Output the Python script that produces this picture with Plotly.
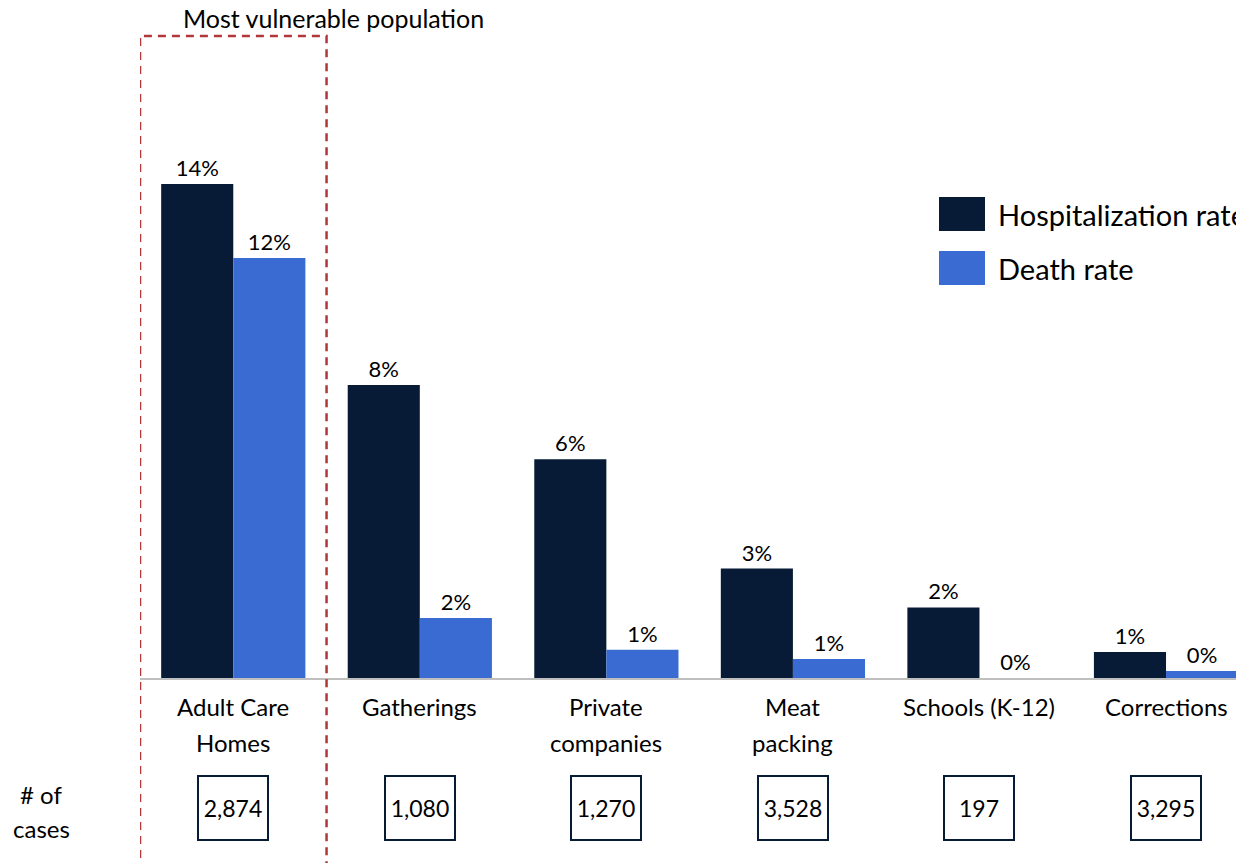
import plotly.graph_objects as go

categories = ["Adult Care<br>Homes", "Gatherings", "Private<br>companies", "Meat<br>packing", "Schools (K-12)", "Corrections"]
hospitalization_rate = [14.0, 8.3, 6.2, 3.1, 2.0, 0.74]
death_rate = [11.9, 1.7, 0.8, 0.54, 0.0, 0.2]
num_cases = ["2,874", "1,080", "1,270", "3,528", "197", "3,295"]
series_names = ["Hospitalization rate", "Death rate"]
series_colors = ["#081b36", "#3a6bd2"]

FONT = "Lato"
x = list(range(len(categories)))

# The page body has an 8px margin, so the figure is 8px smaller and margins shifted.
W, H = 1236, 855
ML, MT, MB = 132, 28, 185
PW = W - ML          # plot width 1104
PH = H - MT - MB     # plot height 642


def px_x(page_x):
    return (page_x - 8 - ML) / PW


def px_y(page_y):
    return (H - MB - (page_y - 8)) / PH


fig = go.Figure()
for name, vals, col in zip(series_names, [hospitalization_rate, death_rate], series_colors):
    fig.add_trace(go.Bar(
        x=x, y=vals, name=name, marker=dict(color=col, line=dict(width=0)),
        texttemplate="%{y:.0f}%", textposition="outside",
        textfont=dict(family=FONT, size=22, color="black"),
        cliponaxis=False, hoverinfo="skip",
    ))

annotations = []
# category labels, line by line
for i, cat in enumerate(categories):
    for j, line in enumerate(cat.split("<br>")):
        annotations.append(dict(x=i, xref="x", y=px_y(706), yref="paper", yshift=-36 * j,
                                text=line, showarrow=False, xanchor="center", yanchor="middle",
                                font=dict(family=FONT, size=24, color="black")))
# case count boxes
for i, n in enumerate(num_cases):
    annotations.append(dict(x=i, xref="x", y=px_y(808), yref="paper", text=n, showarrow=False,
                            width=66, height=60, bordercolor="#081b36", borderwidth=2,
                            bgcolor="white", xanchor="center", yanchor="middle",
                            font=dict(family=FONT, size=23, color="black")))
for j, line in enumerate(["# of", "cases"]):
    annotations.append(dict(x=px_x(41), xref="paper", y=px_y(794), yref="paper", yshift=-34 * j,
                            text=line, showarrow=False, xanchor="center", yanchor="middle",
                            font=dict(family=FONT, size=24, color="black")))
annotations.append(dict(x=px_x(333), xref="paper", y=px_y(18), yref="paper", text="Most vulnerable population",
                        showarrow=False, xanchor="center", yanchor="middle",
                        font=dict(family=FONT, size=25, color="black")))

# legend (manual, large swatches)
shapes = []
leg_y = [(197, 231), (251, 285)]
for (t, b), name, col in zip(leg_y, series_names, series_colors):
    shapes.append(dict(type="rect", xref="paper", yref="paper", x0=px_x(939), x1=px_x(985),
                       y0=px_y(b), y1=px_y(t), fillcolor=col, line=dict(width=0)))
    annotations.append(dict(x=px_x(996), xref="paper", y=px_y((t + b) / 2), yref="paper", text=name,
                            showarrow=False, xanchor="left", yanchor="middle",
                            font=dict(family=FONT, size=29, color="black")))

# dashed "most vulnerable" box
shapes.append(dict(type="rect", xref="x", yref="paper", x0=-0.5, x1=0.5, y0=-0.4, y1=px_y(36),
                   line=dict(color="#b03838", width=2.5, dash="8px,6px"), fillcolor="rgba(0,0,0,0)"))

fig.update_layout(
    width=W, height=H,
    margin=dict(l=ML, r=0, t=MT, b=MB),
    paper_bgcolor="white", plot_bgcolor="white",
    barmode="group", bargap=0.227, bargroupgap=0,
    showlegend=False,
    xaxis=dict(range=[-0.5, 5.418], showgrid=False, zeroline=False, showline=True,
               linecolor="#bfbfbf", linewidth=1.5, showticklabels=False, ticks=""),
    yaxis=dict(range=[0, 18.19], visible=False),
    annotations=annotations, shapes=shapes,
    font=dict(family=FONT, color="black"),
)

fig.write_html("out.html")
